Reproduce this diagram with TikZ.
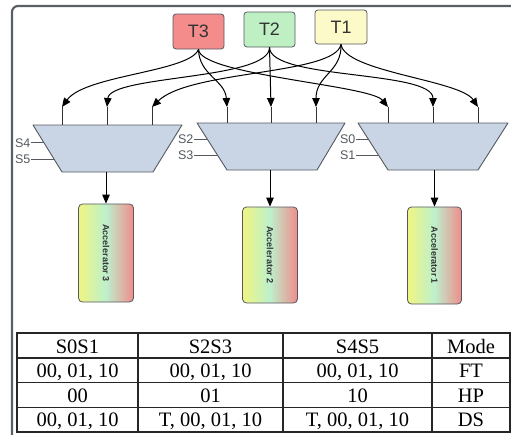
\documentclass[tikz,border=0pt]{standalone}
\usepackage{fontspec}
\setmainfont{Liberation Sans}
\newfontfamily\tabfont{Liberation Serif}
\usepackage{graphicx}
\usetikzlibrary{arrows.meta}
\definecolor{framecol}{HTML}{5A5F66}
\definecolor{t3col}{HTML}{F58C8C}
\definecolor{t2col}{HTML}{BEF0C3}
\definecolor{t1col}{HTML}{FCFAC8}
\definecolor{muxcol}{HTML}{C9D5E4}
\definecolor{edgecol}{HTML}{55595F}
\definecolor{txtcol}{HTML}{333333}
\definecolor{accy}{HTML}{F0F582}
\definecolor{accg}{HTML}{BDF0CC}
\definecolor{accr}{HTML}{F08C8C}
\tikzset{
  tbox/.style={draw=edgecol, line width=0.8pt, rounded corners=3pt, minimum width=51pt, minimum height=35pt, inner sep=0pt, text=txtcol, font=\fontsize{18}{20}\selectfont},
  conn/.style={draw=black, line width=1pt, -{Triangle[length=9pt,width=7.5pt]}},
  stub/.style={draw=black!80, line width=0.8pt},
  mux/.style={fill=muxcol, draw=edgecol, line width=0.9pt, line join=round},
  selline/.style={draw=edgecol, line width=0.9pt},
  sellab/.style={anchor=east, inner sep=0.5pt, text=edgecol, font=\fontsize{12.5}{14}\selectfont},
  accbox/.style={draw=edgecol, line width=0.8pt, rounded corners=4pt, minimum width=55pt, minimum height=97pt, inner sep=0pt, left color=accy, right color=accr, middle color=accg, text=txtcol, font=\fontsize{9}{10}\selectfont\bfseries},
  cell/.style={inner sep=0pt, anchor=base, text=black, font=\tabfont\fontsize{20.5}{22}\selectfont},
  tabline/.style={draw=black!85, line width=1.1pt}
}
\begin{document}
\begin{tikzpicture}[x=1pt,y=-1pt]
\useasboundingbox (0,0) rectangle (511,434);
\clip (0,0) rectangle (511,434);
\draw[framecol, line width=2.2pt, rounded corners=6pt] (12,6) rectangle (540,470);

% sources
\node[tbox, fill=t3col] (T3) at (198.5,31.5) {T3};
\node[tbox, fill=t2col] (T2) at (269.5,29.5) {T2};
\node[tbox, fill=t1col, minimum width=52pt, minimum height=34pt] (T1) at (341,27) {T1};

% multiplexers
\draw[mux] (33,125) -- (182,125) -- (153,172) -- (62,172) -- cycle;
\draw[mux] (197,123) -- (345,123) -- (317,170) -- (227,170) -- cycle;
\draw[mux] (358,123) -- (508,123) -- (478,170) -- (388,170) -- cycle;

% input arrow ends and port points
\coordinate (a1) at (62,107);  \coordinate (p1) at (62,125);
\coordinate (a2) at (107,107); \coordinate (p2) at (107,125);
\coordinate (a3) at (152,107); \coordinate (p3) at (152,125);
\coordinate (b1) at (227,107); \coordinate (q1) at (227,123);
\coordinate (b2) at (271,107); \coordinate (q2) at (271,123);
\coordinate (b3) at (316,107); \coordinate (q3) at (316,123);
\coordinate (c1) at (388,107); \coordinate (r1) at (388,123);
\coordinate (c2) at (433,107); \coordinate (r2) at (433,123);
\coordinate (c3) at (478,107); \coordinate (r3) at (478,123);
\foreach \u/\v in {a1/p1,a2/p2,a3/p3,b1/q1,b2/q2,b3/q3,c1/r1,c2/r2,c3/r3}
  \draw[stub] (\u) -- (\v);

% connectors from T3
\draw[conn] (T3.south) .. controls (190,72) and (85,75) .. (a1);
\draw[conn] (T3.south) .. controls (199,75) and (225,80) .. (b1);
\draw[conn] (T3.south) .. controls (200,75) and (370,85) .. (c1);
% connectors from T2
\draw[conn] (T2.south) .. controls (270,80) and (110,75) .. (a2);
\draw[conn] (T2.south) -- (b2);
\draw[conn] (T2.south) .. controls (270,80) and (433,70) .. (c2);
% connectors from T1
\draw[conn] (T1.south) .. controls (335,75) and (190,70) .. (a3);
\draw[conn] (T1.south) .. controls (342,72) and (316,75) .. (b3);
\draw[conn] (T1.south) .. controls (345,72) and (460,80) .. (c3);

% select lines
\node[sellab] (s4) at (31,142.7) {S4};
\node[sellab] (s5) at (31,159) {S5};
\draw[selline] (s4.east) -- (43.9,142.7);
\draw[selline] (s5.east) -- (54,159);
\node[sellab] (s2) at (194,139) {S2};
\node[sellab] (s3) at (194,155) {S3};
\draw[selline] (s2.east) -- (207.2,139);
\draw[selline] (s3.east) -- (217.4,155);
\node[sellab] (s0) at (356,139) {S0};
\node[sellab] (s1) at (356,155) {S1};
\draw[selline] (s0.east) -- (368.2,139);
\draw[selline] (s1.east) -- (378.4,155);

% accelerators
\node[accbox, minimum height=98pt] (A3) at (106,253) {\rotatebox{-90}{Accelerator 3}};
\node[accbox, minimum height=96pt] (A2) at (270,255) {\rotatebox{-90}{Accelerator 2}};
\node[accbox, minimum width=54pt] (A1) at (434.5,255.5) {\rotatebox{-90}{Accelerator 1}};
\coordinate (o3) at (106,172);
\coordinate (o2) at (270,170);
\coordinate (o1) at (434.5,170);
\draw[conn] (o3) -- (A3.north);
\draw[conn] (o2) -- (A2.north);
\draw[conn] (o1) -- (A1.north);

% table
\draw[tabline] (17,333) rectangle (510,432);
\foreach \yy in {358,382.5,407.5} \draw[tabline] (17,\yy) -- (510,\yy);
\foreach \xx in {138,283,432} \draw[tabline] (\xx,333) -- (\xx,432);
\node[cell] (h1) at (77.5,353) {S0S1};
\node[cell] (h2) at (210.5,353) {S2S3};
\node[cell] (h3) at (357.5,353) {S4S5};
\node[cell] (h4) at (471,353) {Mode};
\node[cell] (r11) at (77.5,377) {00, 01, 10};
\node[cell] (r12) at (210.5,377) {00, 01, 10};
\node[cell] (r13) at (357.5,377) {00, 01, 10};
\node[cell] (r14) at (471,377) {FT};
\node[cell] (r21) at (77.5,402) {00};
\node[cell] (r22) at (210.5,402) {01};
\node[cell] (r23) at (357.5,402) {10};
\node[cell] (r24) at (471,402) {HP};
\node[cell] (r31) at (77.5,426.5) {00, 01, 10};
\node[cell] (r32) at (210.5,426.5) {T, 00, 01, 10};
\node[cell] (r33) at (357.5,426.5) {T, 00, 01, 10};
\node[cell] (r34) at (471,426.5) {DS};
\end{tikzpicture}
\end{document}
